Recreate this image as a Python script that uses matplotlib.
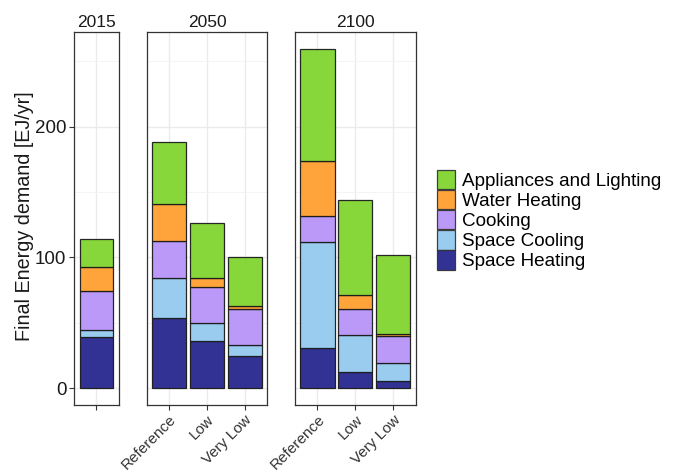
import numpy as np
import matplotlib.pyplot as plt
from matplotlib.patches import Patch
from matplotlib.ticker import MultipleLocator

plt.rcParams["font.family"] = ["Liberation Sans", "DejaVu Sans"]

# Final energy demand by end use [EJ/yr]
periods = ["2015", "2050", "2100"]
scenarios = {
    "2015": [""],
    "2050": ["Reference", "Low", "Very Low"],
    "2100": ["Reference", "Low", "Very Low"],
}
end_uses = ["Space Heating", "Space Cooling", "Cooking", "Water Heating",
            "Appliances and Lighting"]
space_heating = {"2015": [38.7], "2050": [54.0, 35.9, 24.2], "2100": [30.8, 12.2, 5.1]}
space_cooling = {"2015": [5.6], "2050": [30.5, 14.0, 8.4], "2100": [81.2, 28.3, 14.2]}
cooking = {"2015": [29.7], "2050": [28.2, 27.7, 28.2], "2100": [20.0, 20.0, 20.2]}
water_heating = {"2015": [18.6], "2050": [27.8, 6.4, 2.3], "2100": [41.8, 11.0, 2.2]}
appliances = {"2015": [21.7], "2050": [47.5, 42.2, 37.1], "2100": [85.5, 72.8, 60.1]}

series = [space_heating, space_cooling, cooking, water_heating, appliances]
colors = ["#25258e", "#93c9ee", "#b693f8", "#ff9f2e", "#80d52e"]

fig = plt.figure(figsize=(6.79, 4.71), dpi=100)
W, H = 679, 471
panel_px = {"2015": (74, 44.7), "2050": (146.7, 120.5), "2100": (294.7, 121.3)}
top, bottom = 32.3, 405

axes = []
for p in periods:
    left, width = panel_px[p]
    ax = fig.add_axes([left / W, 1 - bottom / H, width / W, (bottom - top) / H])
    axes.append(ax)
    x = np.arange(len(scenarios[p]))
    base = np.zeros(len(x))
    for vals, col in zip(series, colors):
        v = np.array(vals[p])
        ax.bar(x, v, bottom=base, width=0.9, color=col, alpha=0.94,
               edgecolor="#1a1a1a", linewidth=0.9, zorder=3)
        base += v
    ax.set_xlim(-0.6, len(x) - 0.4)
    ax.set_ylim(-12.97, 272.3)
    ax.yaxis.set_major_locator(MultipleLocator(100))
    ax.yaxis.set_minor_locator(MultipleLocator(50))
    ax.set_xticks(x)
    ax.grid(which="major", color="#ebebeb", linewidth=1.0, zorder=0)
    ax.grid(which="minor", axis="y", color="#f3f3f3", linewidth=0.6, zorder=0)
    ax.set_axisbelow(True)
    for s in ax.spines.values():
        s.set_color("#333333")
        s.set_linewidth(0.9)
    ax.tick_params(axis="both", which="major", length=3.5, color="#333333",
                   width=0.8, pad=2, labelsize=13.5, labelcolor="#1a1a1a")
    ax.tick_params(axis="y", which="minor", length=0)
    ax.set_xticklabels(scenarios[p], rotation=45, ha="right",
                       rotation_mode="anchor", fontsize=11, color="#333333")
    ax.set_title(p, fontsize=12.5, pad=4, color="#1a1a1a")
    if p != "2015":
        ax.tick_params(axis="y", which="both", left=False, labelleft=False)

fig.text(25 / W, 1 - 216 / H, "Final Energy demand [EJ/yr]", rotation=90,
         ha="center", va="center", fontsize=14.2, color="#1a1a1a")

handles = [Patch(facecolor=c, edgecolor="#333333", linewidth=0.9, alpha=0.94)
           for c in colors[::-1]]
fig.legend(handles, end_uses[::-1], loc="upper left",
           bbox_to_anchor=(429 / W, 1 - 162 / H), frameon=False,
           fontsize=13.6, handlelength=0.95, handleheight=1.22,
           labelspacing=0.0, handletextpad=0.4, borderaxespad=0)

fig.savefig("out.png", dpi=100)
